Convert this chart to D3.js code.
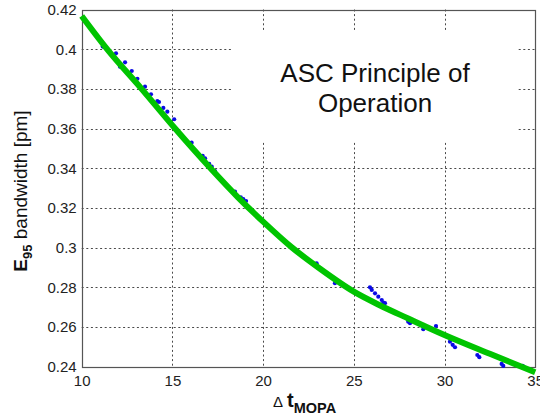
<!DOCTYPE html>
<html>
<head>
<meta charset="utf-8">
<script src="https://cdn.jsdelivr.net/npm/d3@7"></script>
<style>
  html, body { margin: 0; padding: 0; background: #fff; }
  svg { display: block; font-family: Arial, "Liberation Sans", sans-serif; }
</style>
</head>
<body>
<svg id="chart" width="540" height="419"></svg>
<script>
// ---- data ----
const xTicks = [10, 15, 20, 25, 30, 35];
const yTicks = [0.24, 0.26, 0.28, 0.30, 0.32, 0.34, 0.36, 0.38, 0.40, 0.42];
const yTickLabels = ["0.24", "0.26", "0.28", "0.3", "0.32", "0.34", "0.36", "0.38", "0.4", "0.42"];

// measured points (blue dots)
const dotX = [11.16, 11.89, 12.39, 12.11, 12.76, 13.07, 13.49, 13.82, 14.17, 14.26, 14.50, 14.72, 15.10,
              16.06, 16.67, 16.80, 17.03, 17.17, 17.35, 18.45, 18.77, 18.91, 19.06,
              22.95, 23.96, 25.89, 25.99, 26.17, 26.35, 26.54, 26.63, 26.72, 27.18,
              28.00, 28.10, 28.83, 29.53, 30.30, 30.45, 30.58, 31.81, 31.92, 33.15, 33.24, 34.31, 34.38];
const dotY = [0.4013, 0.3979, 0.3934, 0.3912, 0.3890, 0.3851, 0.3811, 0.3773, 0.3738, 0.3734, 0.3704, 0.3685, 0.3647,
              0.3529, 0.3462, 0.3450, 0.3422, 0.3408, 0.3386, 0.3282, 0.3254, 0.3244, 0.3235,
              0.2921, 0.2821, 0.2800, 0.2787, 0.2770, 0.2753, 0.2736, 0.2723, 0.2720, 0.2678,
              0.2627, 0.2619, 0.2589, 0.2605, 0.2526, 0.2510, 0.2498, 0.2459, 0.2448, 0.2414, 0.2404, 0.2404, 0.2397];

// fitted curve (green)
const fitX = [10, 11.4, 13.3, 15.15, 17.1, 18.6, 20, 21.6, 23.1, 25, 26.4, 28, 30, 32.5, 35];
const fitY = [0.4167, 0.400, 0.380, 0.360, 0.340, 0.3255, 0.3131, 0.300, 0.2896, 0.2778, 0.2711, 0.2643, 0.2560, 0.2465, 0.2372];

const titleLines = ["ASC Principle of", "Operation"];

// ---- layout ----
const svg = d3.select("#chart");
const L = 81.7, R = 535.2, T = 9.5, B = 366.7;

const x = d3.scaleLinear().domain([10, 35]).range([L, R]);
const y = d3.scaleLinear().domain([0.24, 0.42]).range([B, T]);

// grid
const grid = svg.append("g").attr("stroke", "#4a4a4a").attr("stroke-width", 1)
  .attr("stroke-dasharray", "2,2.6").attr("fill", "none");
grid.selectAll("line.v").data(xTicks.slice(1, -1)).join("line")
  .attr("x1", d => Math.round(x(d)) + 0.5).attr("x2", d => Math.round(x(d)) + 0.5)
  .attr("y1", T).attr("y2", B);
grid.selectAll("line.h").data(yTicks.slice(1, -1)).join("line")
  .attr("y1", d => Math.round(y(d)) + 0.5).attr("y2", d => Math.round(y(d)) + 0.5)
  .attr("x1", L).attr("x2", R);

// white text box hiding grid
svg.append("rect").attr("x", 232).attr("y", 32).attr("width", 286).attr("height", 110).attr("fill", "#fff");

// axes box
svg.append("rect").attr("x", Math.round(L) + 0.5).attr("y", Math.round(T) + 0.5)
  .attr("width", Math.round(R) - Math.round(L)).attr("height", Math.round(B) - Math.round(T))
  .attr("fill", "none").attr("stroke", "#555").attr("stroke-width", 1.2);

// axes with tick labels
const xAxis = d3.axisBottom(x).tickValues(xTicks).tickSize(0).tickPadding(9).tickFormat(d3.format("d"));
const gx = svg.append("g").attr("transform", `translate(0,${B})`).call(xAxis);
gx.select(".domain").remove();
gx.selectAll("text").attr("font-size", 15).attr("fill", "#222").attr("font-family", "Arial, 'Liberation Sans', sans-serif");

const yAxis = d3.axisLeft(y).tickValues(yTicks).tickSize(0).tickPadding(5)
  .tickFormat((d, i) => yTickLabels[i]);
const gy = svg.append("g").attr("transform", `translate(${L},0)`).call(yAxis);
gy.select(".domain").remove();
gy.selectAll("text").attr("font-size", 15).attr("fill", "#222").attr("font-family", "Arial, 'Liberation Sans', sans-serif");

// dots
const pts = dotX.map((d, i) => [d, dotY[i]]);
svg.append("g").selectAll("circle").data(pts).join("circle")
  .attr("cx", d => x(d[0])).attr("cy", d => y(d[1])).attr("r", 2.1).attr("fill", "#0a0ae6");

// fitted line
const line = d3.line().x(d => x(d[0])).y(d => y(d[1])).curve(d3.curveMonotoneX);
svg.append("path").datum(fitX.map((d, i) => [d, fitY[i]]))
  .attr("d", line).attr("fill", "none").attr("stroke", "#00c400").attr("stroke-width", 6);

// annotation text
const ann = svg.append("text").attr("text-anchor", "middle").attr("font-size", 26).attr("fill", "#111");
ann.selectAll("tspan").data(titleLines).join("tspan")
  .attr("x", 375).attr("y", (d, i) => 82 + i * 30).text(d => d);

// x label
const xl = svg.append("text").attr("x", 273).attr("y", 407).attr("fill", "#111");
xl.append("tspan").attr("font-size", 15).text("Δ");
xl.append("tspan").attr("font-size", 20).attr("font-weight", "bold").attr("dx", 4).text("t");
xl.append("tspan").attr("font-size", 14.5).attr("font-weight", "bold").attr("dy", 6).text("MOPA");

// y label
const yl = svg.append("text").attr("transform", "translate(27,191) rotate(-90)")
  .attr("text-anchor", "middle").attr("fill", "#111");
yl.append("tspan").attr("font-size", 19).attr("font-weight", "bold").text("E");
yl.append("tspan").attr("font-size", 13).attr("font-weight", "bold").attr("dy", 5).text("95");
yl.append("tspan").attr("font-size", 19).attr("dy", -5).text(" bandwidth [pm]");
</script>
</body>
</html>
